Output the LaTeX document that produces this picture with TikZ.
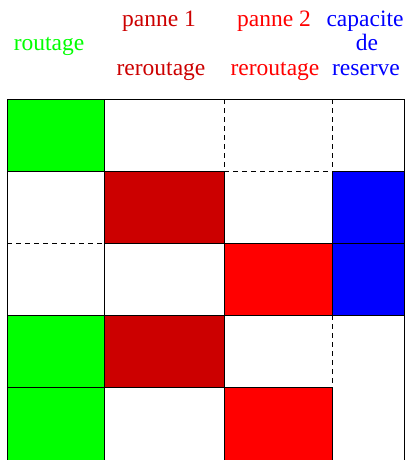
\documentclass[tikz,border=0pt]{standalone}
\usepackage{fontspec}
\setmainfont{Liberation Serif}
\definecolor{cgreen}{RGB}{0,255,0}
\definecolor{cdred}{RGB}{204,0,0}
\definecolor{cred}{RGB}{255,0,0}
\definecolor{cblue}{RGB}{0,0,255}
\begin{document}
\begin{tikzpicture}[x=1pt,y=-1pt,
  lbl/.style={anchor=base,inner sep=0pt,font=\fontsize{23.5}{28}\selectfont},
  cell/.style={draw=black,line width=0.8pt},
  gline/.style={draw=black,line width=0.8pt},
  dline/.style={draw=black,line width=0.8pt,dash pattern=on 5pt off 4pt}]
\useasboundingbox (0,0) rectangle (408,460);
% header texts
\node[lbl,text=cgreen] (t1) at (49,51) {routage};
\node[lbl,text=cdred] (t2) at (159,27) {panne 1};
\node[lbl,text=cdred] (t3) at (161,75) {reroutage};
\node[lbl,text=cred] (t4) at (274,27) {panne 2};
\node[lbl,text=cred] (t5) at (275,75) {reroutage};
\node[lbl,text=cblue] (t6) at (365,27) {capacite};
\node[lbl,text=cblue] (t7) at (367,51) {de};
\node[lbl,text=cblue] (t8) at (366,75) {reserve};
% coloured cells
\fill[cgreen] (7,99) rectangle (104,171);
\fill[cgreen] (7,315) rectangle (104,460);
\fill[cdred] (104,171) rectangle (224,243);
\fill[cdred] (104,315) rectangle (224,387);
\fill[cred] (224,243) rectangle (332,315);
\fill[cred] (224,387) rectangle (332,460);
\fill[cblue] (332,171) rectangle (404,315);
% vertical lines
\draw[gline] (7,99) -- (7,460);
\draw[gline] (404,99) -- (404,460);
\draw[gline] (104,99) -- (104,460);
\draw[dline] (224,99) -- (224,171);
\draw[gline] (224,171) -- (224,460);
\draw[dline] (332,99) -- (332,171);
\draw[gline] (332,171) -- (332,315);
\draw[dline] (332,315) -- (332,387);
\draw[gline] (332,387) -- (332,460);
% horizontal lines
\draw[gline] (7,99) -- (404,99);
\draw[gline] (7,171) -- (224,171);
\draw[dline] (224,171) -- (332,171);
\draw[gline] (332,171) -- (404,171);
\draw[dline] (7,243) -- (104,243);
\draw[gline] (104,243) -- (404,243);
\draw[gline] (7,315) -- (404,315);
\draw[gline] (7,387) -- (332,387);
\end{tikzpicture}
\end{document}
